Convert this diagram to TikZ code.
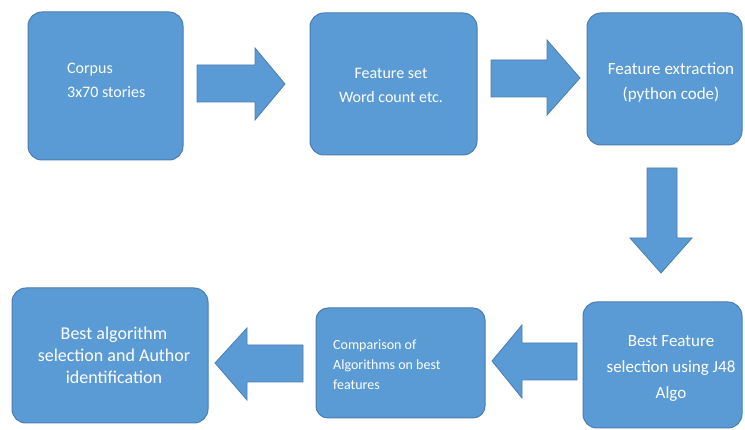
\documentclass[tikz,border=0pt]{standalone}
\usepackage{fontspec}
\setmainfont{Carlito}
\definecolor{boxfill}{HTML}{5B9BD5}
\definecolor{boxline}{HTML}{4A7DB0}
\begin{document}
\begin{tikzpicture}[x=1pt,y=-1pt,
  stepbox/.style={fill=boxfill,draw=boxline,line width=1pt,rounded corners=14pt},
  blockarrow/.style={fill=boxfill,draw=boxline,line width=0.8pt,line join=miter},
  lbl/.style={text=white,inner sep=0pt,align=center}]
\useasboundingbox (0,0) rectangle (745,430);
\fill[white] (0,0) rectangle (745,430);
% boxes
\draw[stepbox] (28,12) rectangle (183,160);
\draw[stepbox] (310,13) rectangle (477,155);
\draw[stepbox] (587,13) rectangle (742,145);
\draw[stepbox] (583,302) rectangle (742,428);
\draw[stepbox,rounded corners=12pt] (316,308) rectangle (485,418);
\draw[stepbox] (12,288) rectangle (208,423);
% labels
\node[lbl,anchor=west,align=left,font=\fontsize{16}{24}\selectfont] (corpus) at (67,80) {Corpus\\3x70 stories};
\node[lbl,font=\fontsize{16}{24}\selectfont] (fset) at (391,85) {Feature set\\Word count etc.};
\node[lbl,font=\fontsize{17}{25}\selectfont] (fext) at (671,82) {Feature extraction\\(python code)};
\node[lbl,font=\fontsize{17}{26}\selectfont] (bfs) at (671,369) {Best Feature\\selection using J48\\Algo};
\node[lbl,anchor=west,align=left,font=\fontsize{14}{20}\selectfont] (comp) at (333,365) {Comparison of\\Algorithms on best\\features};
\node[lbl,font=\fontsize{18}{22}\selectfont] (best) at (114,355) {Best algorithm\\selection and Author\\identification};
% block arrows
\draw[blockarrow] (197,65) -- (255,65) -- (255,48) -- (285,84) -- (255,120) -- (255,102) -- (197,102) -- cycle;
\draw[blockarrow] (491,60) -- (547,60) -- (547,40) -- (580,78) -- (547,115) -- (547,97) -- (491,97) -- cycle;
\draw[blockarrow] (647,168) -- (677,168) -- (677,238) -- (692,238) -- (661,273) -- (630,238) -- (647,238) -- cycle;
\draw[blockarrow] (577,343) -- (522,343) -- (522,325) -- (492,361) -- (522,398) -- (522,380) -- (577,380) -- cycle;
\draw[blockarrow] (303,345) -- (247,345) -- (247,328) -- (215,363) -- (247,400) -- (247,382) -- (303,382) -- cycle;
\end{tikzpicture}
\end{document}
